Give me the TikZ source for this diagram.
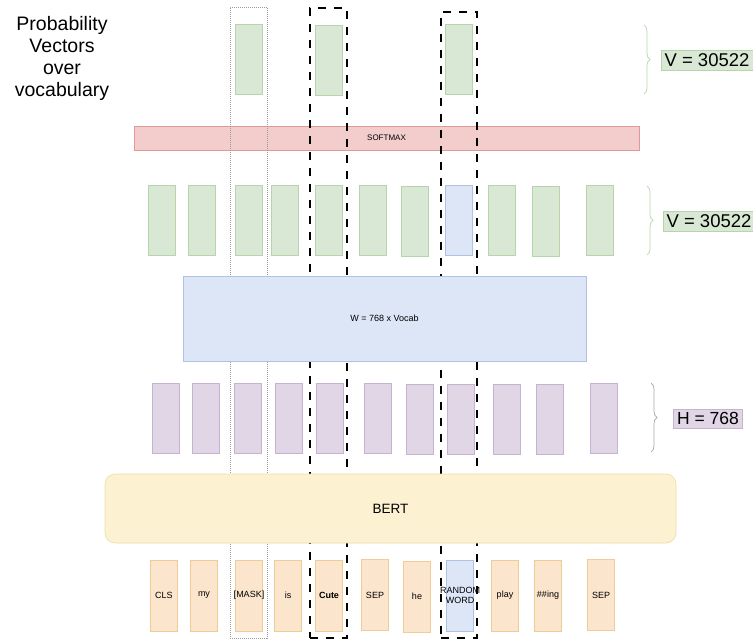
\documentclass[tikz,border=0pt]{standalone}
\usepackage{fontspec}
\setmainfont{Liberation Sans}
\usetikzlibrary{positioning,decorations.pathreplacing}

\definecolor{grnfill}{HTML}{D9E8D5}
\definecolor{grnline}{HTML}{B8D4AC}
\definecolor{redfill}{HTML}{F2CDCC}
\definecolor{redline}{HTML}{DE9A98}
\definecolor{blufill}{HTML}{DCE6F7}
\definecolor{bluline}{HTML}{AFC2E2}
\definecolor{purfill}{HTML}{E0D6E5}
\definecolor{purline}{HTML}{C6B3D2}
\definecolor{yelfill}{HTML}{FCF1D1}
\definecolor{yelline}{HTML}{EEDDA6}
\definecolor{orgfill}{HTML}{FBE5CD}
\definecolor{orgline}{HTML}{EFCB98}

\newcommand{\tk}[1]{\makebox[0pt]{#1}}

\begin{document}
\begin{tikzpicture}[
        x=1pt, y=-1pt,
        vec/.style={rectangle, draw, line width=0.6pt, minimum width=27pt, minimum height=70pt, inner sep=0pt},
        prob/.style={vec, fill=grnfill, draw=grnline},
        hid/.style={vec, fill=purfill, draw=purline},
        tok/.style={vec, fill=orgfill, draw=orgline, minimum height=71pt, font=\fontsize{9}{10.5}\selectfont, align=center},
        rnd/.style={fill=blufill, draw=bluline},
        layer/.style={rectangle, draw, line width=0.6pt, inner sep=0pt},
        col/.style={rectangle, inner sep=0pt, minimum width=37pt},
        maskcol/.style={col, draw=gray!80, line width=0.5pt, dash pattern=on 1pt off 1pt},
        predcol/.style={col, draw=black, line width=2.8pt, dash pattern=on 8pt off 8pt},
        brc/.style={decorate, decoration={brace, amplitude=6pt}, line width=0.7pt},
        dimlbl/.style={rectangle, draw, line width=0.6pt, inner sep=3.5pt, font=\fontsize{18.5}{20}\selectfont},
    ]
    \useasboundingbox (0,0) rectangle (753,640);

    % ----- Title -----
    \node[align=center, font=\fontsize{19.5}{22}\selectfont] (title) at (62,58) {Probability\\Vectors\\over\\vocabulary};

    % ----- Softmax (under the columns) -----
    \node[layer, fill=redfill, draw=redline, minimum width=505pt, minimum height=24pt, font=\fontsize{8}{9}\selectfont] (softmax) at (386.5,138) {SOFTMAX};

    % ----- Columns -----
    \node[maskcol, minimum height=631pt] (maskc) at (248.5,322.5) {};
    \node[predcol, minimum height=630pt] (cutec) at (328.5,323) {};
    \node[predcol, minimum width=36pt, minimum height=626pt] (randc) at (459,325) {};

    % ----- Output probabilities -----
    \node[prob] (p1) at (248.5,59) {};
    \node[prob] (p2) at (329,60) {};
    \node[prob] (p3) at (459,59) {};

    \coordinate (b1t) at (644,25);
    \coordinate (b1b) at (644,94);
    \draw[brc, draw=grnline] (b1t) -- (b1b);
    \node[dimlbl, fill=grnfill, draw=grnline] (v1) at (707,60) {V = 30522};

    % ----- Logits -----
    \node[prob] (l1) at (162,220) {};
    \node[prob] (l2) at (202,220) {};
    \node[prob] (l3) at (248.5,220) {};
    \node[prob] (l4) at (284.5,220) {};
    \node[prob] (l5) at (329,220) {};
    \node[prob] (l6) at (373,220) {};
    \node[prob] (l7) at (415,221) {};
    \node[prob, rnd] (l8) at (459,220) {};
    \node[prob] (l9) at (502,220) {};
    \node[prob] (l10) at (545.5,221) {};
    \node[prob] (l11) at (599.5,220) {};

    \coordinate (b2t) at (647,186);
    \coordinate (b2b) at (647,255);
    \draw[brc, draw=grnline] (b2t) -- (b2b);
    \node[dimlbl, fill=grnfill, draw=grnline] (v2) at (709,221) {V = 30522};

    % ----- Output projection -----
    \node[layer, fill=blufill, draw=bluline, minimum width=403pt, minimum height=85pt, font=\fontsize{9}{10.5}\selectfont] (proj) at (384.5,318.5) {W = 768 x Vocab};

    % ----- Hidden states -----
    \node[hid] (h1) at (166,418) {};
    \node[hid] (h2) at (206,418) {};
    \node[hid] (h3) at (247.5,418) {};
    \node[hid] (h4) at (288.5,418) {};
    \node[hid] (h5) at (330,418) {};
    \node[hid] (h6) at (377.5,418) {};
    \node[hid] (h7) at (419.5,419) {};
    \node[hid] (h8) at (460.5,419) {};
    \node[hid] (h9) at (506.5,419) {};
    \node[hid] (h10) at (549.5,419) {};
    \node[hid] (h11) at (603.5,418) {};

    \coordinate (b3t) at (651,383);
    \coordinate (b3b) at (651,452);
    \draw[brc, draw=gray!70] (b3t) -- (b3b);
    \node[dimlbl, fill=purfill, draw=purline, font=\fontsize{17.5}{20}\selectfont] (hdim) at (708,418.5) {H = 768};

    % ----- Encoder -----
    \node[layer, fill=yelfill, draw=yelline, rounded corners=10pt, minimum width=571pt, minimum height=69pt, font=\fontsize{13.5}{15}\selectfont] (bert) at (390.5,508.5) {BERT};

    % ----- Input tokens -----
    \node[tok] (t1) at (164,595.5) {\tk{CLS}};
    \node[tok] (t2) at (204,595.5) {\tk{my}};
    \node[tok] (t3) at (249,595.5) {\tk{[MASK]}};
    \node[tok] (t4) at (288,595.5) {\tk{is}};
    \node[tok] (t5) at (329,595.5) {\tk{\bfseries Cute}};
    \node[tok] (t6) at (375,595) {\tk{SEP}};
    \node[tok] (t7) at (417,596.5) {\tk{he}};
    \node[tok, rnd] (t8) at (460,595.5) {\tk{RANDOM}\\\tk{WORD}};
    \node[tok] (t9) at (505,595.5) {\tk{play}};
    \node[tok] (t10) at (548,595.5) {\tk{\#\#ing}};
    \node[tok] (t11) at (601,595) {\tk{SEP}};

\end{tikzpicture}
\end{document}
